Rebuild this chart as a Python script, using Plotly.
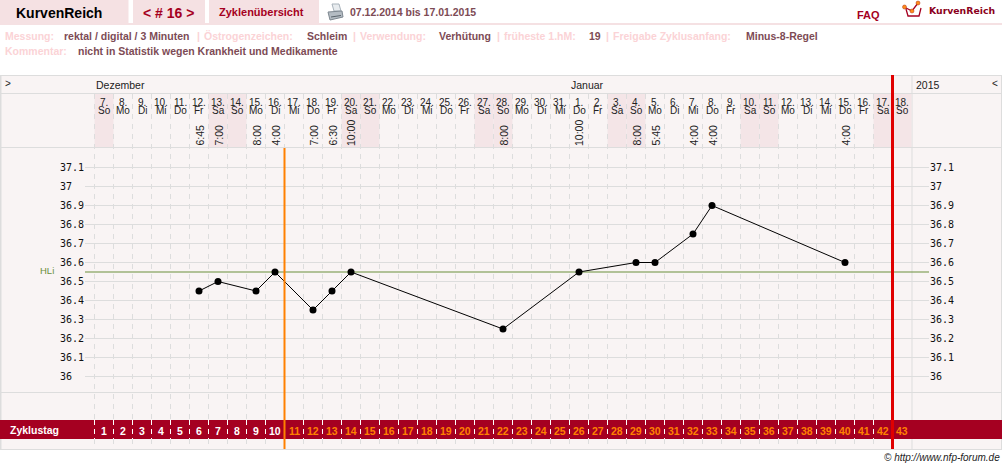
import plotly.graph_objects as go

# Cycle calendar
cycle_days = list(range(1, 44))
date_labels = ["7.", "8.", "9.", "10.", "11.", "12.", "13.", "14.", "15.", "16.", "17.", "18.", "19.",
               "20.", "21.", "22.", "23.", "24.", "25.", "26.", "27.", "28.", "29.", "30.", "31.",
               "1.", "2.", "3.", "4.", "5.", "6.", "7.", "8.", "9.", "10.", "11.", "12.", "13.",
               "14.", "15.", "16.", "17.", "18."]
weekday_labels = ["So", "Mo", "Di", "Mi", "Do", "Fr", "Sa"] * 6 + ["So"]

# Temperature readings
measured_days = [6, 7, 9, 10, 12, 13, 14, 22, 26, 29, 30, 32, 33, 40]
temperatures = [36.45, 36.5, 36.45, 36.55, 36.35, 36.45, 36.55, 36.25, 36.55, 36.6, 36.6, 36.75, 36.9, 36.6]
measure_times = ["6:45", "7:00", "8:00", "4:00", "7:00", "6:30", "10:00", "8:00", "10:00", "8:00", "5:45",
                 "4:00", "4:00", "4:00"]

temp_ticks = [36, 36.1, 36.2, 36.3, 36.4, 36.5, 36.6, 36.7, 36.8, 36.9, 37, 37.1]
temp_tick_labels = ["36", "36.1", "36.2", "36.3", "36.4", "36.5", "36.6", "36.7", "36.8", "36.9", "37", "37.1"]
cover_line_temp = 36.55
fertile_end_edge = 10.5
last_day_edge = 42.5

W, H = 1002, 469
PLOT_L, PLOT_R = 85, 929
COL = 19.0
DAY1_X = 104.0
Y_36, PX_PER_TENTH = 376.5, 19.0

CRIMSON = "#a50021"
ORANGE = "#ff8000"
RED = "#e00000"
GRID = "#dddddd"
BG = "#f9f4f4"
TAB = "#f5e1e3"
WEEKEND = "#f4e5e7"
MAUVE = "#7d4b55"
PINK = "#fbd3d6"
SANS = "Liberation Sans, Arial, sans-serif"

x_range = [1 + (PLOT_L - DAY1_X) / COL, 1 + (PLOT_R - DAY1_X) / COL]
y_range = [36 - (H - Y_36) / PX_PER_TENTH / 10, 36 + Y_36 / PX_PER_TENTH / 10]


def px(x):
    return (x - PLOT_L) / (PLOT_R - PLOT_L)


def py(y):
    return 1 - y / H


shapes = []
annotations = []


def rect(x0, y0, x1, y1, fill, layer="below"):
    shapes.append(dict(type="rect", xref="paper", yref="paper", x0=px(x0), x1=px(x1), y0=py(y0), y1=py(y1),
                       fillcolor=fill, line_width=0, layer=layer))


def hline(x0, x1, y, color=GRID, width=1, layer="below"):
    shapes.append(dict(type="line", xref="paper", yref="paper", x0=px(x0), x1=px(x1), y0=py(y), y1=py(y),
                       line=dict(color=color, width=width), layer=layer))


def vline(x, y0, y1, color=GRID, width=1, dash=None, layer="below"):
    shapes.append(dict(type="line", xref="paper", yref="paper", x0=px(x), x1=px(x), y0=py(y0), y1=py(y1),
                       line=dict(color=color, width=width, dash=dash), layer=layer))


def poly(points, color, width=1, fill=None, layer="above"):
    path = "M " + " L ".join(f"{px(a)} {py(b)}" for a, b in points)
    if fill:
        path += " Z"
    shapes.append(dict(type="path", xref="paper", yref="paper", path=path, fillcolor=fill,
                       line=dict(color=color, width=width), layer=layer))


def text(x, y, s, size=10, color="#000000", bold=False, family=SANS, xanchor="left", angle=0, yanchor="middle"):
    annotations.append(dict(xref="paper", yref="paper", x=px(x), y=py(y), text=f"<b>{s}</b>" if bold else s,
                            showarrow=False, xanchor=xanchor, yanchor=yanchor, textangle=angle,
                            font=dict(size=size, color=color, family=family), borderpad=0, borderwidth=0))


def edge_px(edge):
    return DAY1_X + (edge - 1) * COL


# Page header
rect(0, 0, 128.5, 23, TAB)
rect(133, 0, 205, 23, TAB)
rect(209, 0, 319, 23, TAB)
rect(0, 23, W, 25, TAB)
text(16, 13, "KurvenReich", 14, "#000000", True)
text(143, 13, "&lt; # 16 &gt;", 14, CRIMSON, True)
text(219, 12.5, "Zyklenübersicht", 11, CRIMSON, True)
text(350, 12.5, "07.12.2014 bis 17.01.2015", 10.5, MAUVE, True)
text(857, 15, "FAQ", 11, CRIMSON, True)
text(929, 10.5, "KurvenReich", 9.3, "#8b0020", True, "DejaVu Sans, Verdana, sans-serif")

# Printer symbol
poly([(332, 4), (339, 4), (341, 11), (334, 11)], "#a9b3bb", 1, "#e8ecef")
poly([(328, 12), (342, 11), (343, 17), (330, 20)], "#7e8890", 1, "#b4bcc3")
poly([(331, 17), (341, 15.5)], "#59636b", 1)

# Logo
poly([(906, 9), (908, 16), (919, 16), (921, 8)], "#a50021", 1.3)
poly([(904, 7), (912, 11), (918, 3)], "#a50021", 1.3)
for lx, ly in [(904.5, 7), (912, 11), (918, 3)]:
    shapes.append(dict(type="circle", xref="paper", yref="paper", x0=px(lx - 2), x1=px(lx + 2),
                       y0=py(ly + 2), y1=py(ly - 2), fillcolor="#ff8c1a", line=dict(color="#b03010", width=0.5),
                       layer="above"))

# Settings summary
summary_line = [
    (5, "Messung:", PINK), (64, "rektal / digital / 3 Minuten", MAUVE), (197, "|", PINK),
    (204, "Östrogenzeichen:", PINK), (307, "Schleim", MAUVE), (353, "|", PINK),
    (360, "Verwendung:", PINK), (439, "Verhütung", MAUVE), (497, "|", PINK),
    (504, "früheste 1.hM:", PINK), (589, "19", MAUVE), (606, "|", PINK),
    (613, "Freigabe Zyklusanfang:", PINK), (746, "Minus-8-Regel", MAUVE),
]
for sx, s, c in summary_line:
    text(sx, 36, s, 10.5, c, True)
text(5, 51, "Kommentar:", 10.5, PINK, True)
text(78, 51, "nicht in Statistik wegen Krankheit und Medikamente", 10.5, MAUVE, True)

# Chart frame and header rows
rect(0, 75, W, 449.5, BG)
for fy in [75.5, 93.5, 147.5, 392.5, 449.5]:
    hline(0, W, fy)
vline(0.5, 75, 449.5, width=2)
vline(1001.5, 75, 449.5, width=1)
vline(912, 75, 449.5)

for i, day in enumerate(cycle_days):
    if weekday_labels[i] in ("Sa", "So"):
        rect(edge_px(day - 0.5), 94, edge_px(day + 0.5), 147, WEEKEND)
    text(edge_px(day), 102, date_labels[i], 10, "#222222", xanchor="center")
    text(edge_px(day), 111, weekday_labels[i], 10, "#222222", xanchor="center")

text(96, 85, "Dezember", 10.5, "#222222")
text(571, 85, "Januar", 10.5, "#222222")
text(916, 85, "2015", 10.5, "#222222")
text(5, 83, "&gt;", 10, "#222222")
text(992, 83, "&lt;", 10, "#222222")

# Dashed day separators
for day in cycle_days:
    edge = edge_px(day - 0.5)
    if day == 1 or True:
        vline(edge, 94, 420, dash="5px,5px")
        vline(edge, 439, 449, dash="5px,5px")

# Cycle-day band
rect(0, 420, W, 439, CRIMSON, layer="between")
text(10, 430, "Zyklustag", 10.5, "#ffffff", True)
for day in cycle_days:
    shapes.append(dict(type="line", xref="paper", yref="paper", x0=px(edge_px(day - 0.5)),
                       x1=px(edge_px(day - 0.5)), y0=py(420), y1=py(439),
                       line=dict(color="#ffffff", width=1, dash="5px,4px"), layer="between"))
    text(edge_px(day), 430.5, str(day), 10.5, "#ffffff" if day <= fertile_end_edge else ORANGE, True, xanchor="center")

# Measurement times, rotated in the header
for day, t in zip(measured_days, measure_times):
    text(edge_px(day), 146, t, 10.5, "#222222", xanchor="center", angle=-90, yanchor="bottom")

# Cover line label and phase markers
text(40, 270, "HLi", 9.5, "#6a8f3a")
shapes.append(dict(type="line", xref="paper", yref="y", x0=px(PLOT_L), x1=px(PLOT_R), y0=cover_line_temp,
                   y1=cover_line_temp, line=dict(color="#6a8f3a", width=1), layer="between"))
shapes.append(dict(type="line", xref="x", yref="paper", x0=fertile_end_edge, x1=fertile_end_edge, y0=py(148),
                   y1=py(449), line=dict(color=ORANGE, width=2), layer="above"))
shapes.append(dict(type="line", xref="x", yref="paper", x0=last_day_edge, x1=last_day_edge, y0=py(75),
                   y1=py(449), line=dict(color=RED, width=3), layer="above"))

text(1000, 457, "© http://www.nfp-forum.de", 10, "#222222", xanchor="right")
annotations[-1]["font"]["family"] = SANS
annotations[-1]["text"] = "<i>© http://www.nfp-forum.de</i>"

fig = go.Figure()
fig.add_trace(go.Scatter(x=measured_days, y=temperatures, mode="lines+markers",
                         line=dict(color="#000000", width=1),
                         marker=dict(color="#000000", size=7), hoverinfo="x+y", showlegend=False))
# Carries the right-hand temperature scale
fig.add_trace(go.Scatter(x=measured_days, y=temperatures, yaxis="y2", mode="lines",
                         line=dict(color="rgba(0,0,0,0)", width=0), hoverinfo="skip", showlegend=False))

tick_font = dict(family="DejaVu Sans Mono, Liberation Mono, monospace", size=10, color="#111111")
left_labels = [s.ljust(4, "\u00a0") for s in temp_tick_labels]
fig.update_layout(
    width=W, height=H, autosize=False,
    margin=dict(l=PLOT_L, r=W - PLOT_R, t=0, b=0, pad=0),
    paper_bgcolor="#ffffff", plot_bgcolor="rgba(0,0,0,0)",
    shapes=shapes, annotations=annotations, showlegend=False,
    xaxis=dict(range=x_range, visible=False, fixedrange=True),
    yaxis=dict(range=y_range, tickmode="array", tickvals=temp_ticks, ticktext=left_labels, ticks="",
               showgrid=True, gridcolor=GRID, gridwidth=1, zeroline=False, showline=False,
               tickfont=tick_font, fixedrange=True),
    yaxis2=dict(range=y_range, overlaying="y", side="right", tickmode="array", tickvals=temp_ticks,
                ticktext=temp_tick_labels, ticks="", showgrid=False, zeroline=False, showline=False,
                tickfont=tick_font, fixedrange=True),
)

fig.write_html("out.html", config=dict(displayModeBar=False))
